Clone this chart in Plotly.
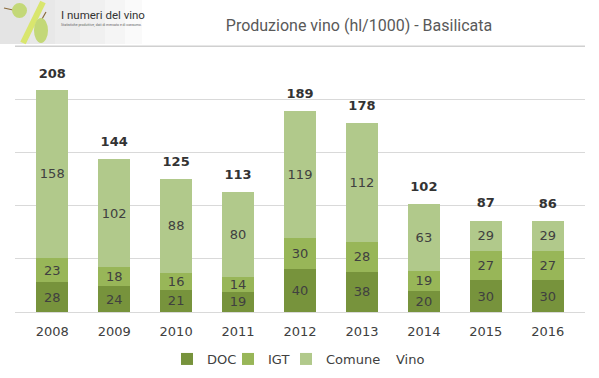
import plotly.graph_objects as go

years = ["2008", "2009", "2010", "2011", "2012", "2013", "2014", "2015", "2016"]
doc = [28, 24, 21, 19, 40, 38, 20, 30, 30]
igt = [23, 18, 16, 14, 30, 28, 19, 27, 27]
comune = [158, 102, 88, 80, 119, 112, 63, 29, 29]
vino = [208, 144, 125, 113, 189, 178, 102, 87, 86]
y_max_grid = 250

FONT = "DejaVu Sans"
W, H = 599, 378
ML, MR, MT, MB = 15, 14, 43, 66
PW, PH = W - ML - MR, H - MT - MB


def px(x):
    return (x - ML) / PW


def py(y):
    return (H - MB - y) / PH


legend_x = {"DOC": px(167), "IGT": px(228), "Comune": px(286), "Vino": px(356)}
legend_ids = {"DOC": "legend", "IGT": "legend2", "Comune": "legend3", "Vino": "legend4"}

fig = go.Figure()
for name, vals, col in [("DOC", doc, "#77933c"), ("IGT", igt, "#98b658"), ("Comune", comune, "#b1c98b")]:
    fig.add_trace(go.Bar(
        x=years, y=vals, name=name, marker=dict(color=col, line=dict(width=0)),
        text=vals, textposition="inside", insidetextanchor="middle", constraintext="none",
        textfont=dict(family=FONT, size=13, color="#404040"),
        hoverinfo="skip", legend=legend_ids[name],
    ))
fig.add_trace(go.Scatter(
    x=years, y=vino, name="Vino", mode="lines+markers+text",
    line=dict(color="rgba(0,0,0,0)", width=0),
    marker=dict(color="rgba(0,0,0,0)", size=14),
    text=[f"<b>{v}</b>" for v in vino], textposition="top center",
    textfont=dict(family=FONT, size=13, color="#333333"),
    hoverinfo="skip", cliponaxis=False, legend="legend4",
))

leg_common = dict(orientation="h", xanchor="left", yref="container", y=1 - 344 / H, yanchor="top",
                  font=dict(family=FONT, size=13, color="#404040"),
                  itemwidth=30, bgcolor="rgba(0,0,0,0)")
layout_legends = {lid: dict(leg_common, x=legend_x[name]) for name, lid in legend_ids.items()}

fig.update_layout(
    width=W, height=H, barmode="stack", bargap=0.48,
    margin=dict(l=ML, r=MR, t=MT, b=MB, autoexpand=False),
    paper_bgcolor="white", plot_bgcolor="white",
    showlegend=True,
    title=dict(text="Produzione vino (hl/1000) - Basilicata", x=359 / W, xanchor="center",
               yref="container", y=1 - 25 / H, yanchor="middle",
               font=dict(family="Roboto", size=16, color="#595959")),
    xaxis=dict(showgrid=False, showline=True, linecolor="#d9d9d9", linewidth=1,
               tickfont=dict(family=FONT, size=13, color="#404040"), ticks="",
               ticklabelstandoff=7),
    yaxis=dict(range=[0, 253], tickvals=[50, 100, 150, 200, 250], showgrid=True, gridcolor="#d9d9d9",
               showticklabels=False, zeroline=False, showline=False),
    **layout_legends,
)

# top gridline (header rule), drawn slightly thicker so it survives anti-aliasing
fig.add_shape(type="line", xref="paper", yref="y", x0=0, x1=1, y0=y_max_grid, y1=y_max_grid,
              line=dict(color="#d0d0d0", width=1.5), layer="above")

# header logo approximation (gradient panel, % sign with grapes, text)
for w in [30, 55, 80, 105, 125, 142]:
    fig.add_shape(type="rect", xref="paper", yref="paper", x0=px(0), x1=px(w), y0=py(44), y1=py(0),
                  line=dict(width=0), fillcolor="rgba(190,190,190,0.07)", layer="below")
fig.add_shape(type="line", xref="paper", yref="paper", x0=px(43), x1=px(23), y0=py(2), y1=py(43),
              line=dict(color="#d9e66e", width=6))
fig.add_shape(type="line", xref="paper", yref="paper", x0=px(4), x1=px(13), y0=py(8), y1=py(10),
              line=dict(color="#8a6a3a", width=1.2))
fig.add_shape(type="line", xref="paper", yref="paper", x0=px(46), x1=px(42), y0=py(12), y1=py(19),
              line=dict(color="#8a6a3a", width=1.2))
fig.add_shape(type="circle", xref="paper", yref="paper", x0=px(12), x1=px(27), y0=py(18), y1=py(3),
              line=dict(width=0), fillcolor="#c3d878")
fig.add_shape(type="circle", xref="paper", yref="paper", x0=px(34), x1=px(48), y0=py(43), y1=py(18),
              line=dict(width=0), fillcolor="#c3d878")
fig.add_annotation(text="I numeri del vino", xref="paper", yref="paper", x=px(59), y=py(15),
                   xanchor="left", yanchor="middle", showarrow=False,
                   font=dict(family="Roboto", size=11.5, color="#333333"))
fig.add_annotation(text="Statistiche produttive, dati di mercato e di consumo.", xref="paper", yref="paper",
                   x=px(59), y=py(25), xanchor="left", yanchor="middle", showarrow=False,
                   font=dict(family="Roboto", size=3.5, color="#666666"))

fig.write_html("out.html", config={"displayModeBar": False},
               post_script="document.body.style.margin='0';document.body.style.overflow='hidden';")
